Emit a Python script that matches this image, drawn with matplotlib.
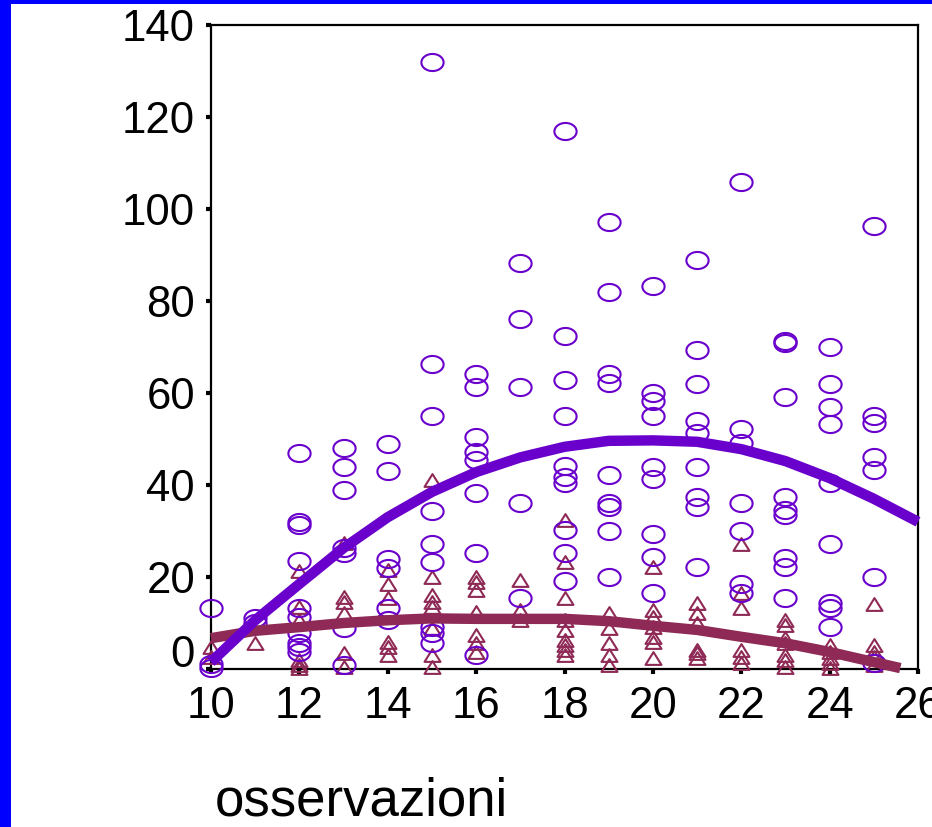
import matplotlib
matplotlib.use("Agg")
import matplotlib.pyplot as plt
import numpy as np
from matplotlib.path import Path
from matplotlib.patches import Rectangle
from matplotlib.transforms import ScaledTranslation

plt.rcParams['font.family'] = ['Liberation Sans', 'DejaVu Sans']

# ---- data ----
circle_x = list(range(10, 26))
circle_vals = [
    [13.3, 1.0, 0.3],
    [11, 10],
    [47, 32, 31.3, 23.5, 13.3, 11.3, 7.8, 5.6, 4.8, 3.7],
    [48, 44, 39, 26.3, 25.2, 8.9, 0.9],
    [49, 43, 24, 22, 13.3, 10.6],
    [132, 66.3, 55, 34.3, 27.2, 23.3, 9.1, 7.8, 5.6],
    [64.1, 61.3, 50.4, 47.2, 45.4, 38.3, 25.2, 3],
    [88.3, 76, 61.3, 36, 15.4],
    [117, 72.4, 62.8, 55, 44.1, 41.7, 40.4, 30.2, 25.2, 19.1],
    [97.2, 82, 64.1, 62.2, 42.2, 36, 35.2, 30, 20],
    [83.3, 60, 58.3, 55, 44, 41.3, 29.3, 24.3, 16.5],
    [89, 69.3, 62, 54, 51.3, 44, 37.4, 35.2, 22.2],
    [105.9, 52.2, 49.1, 36, 30, 18.5, 16.5],
    [71.2, 70.8, 59.1, 37.4, 34.6, 33.5, 24.1, 22.2, 15.4],
    [70, 62, 57, 53.3, 40.4, 27.2, 14.3, 13.3, 9.1],
    [96.3, 55, 53.5, 46.1, 43.3, 20, 1.3],
]
triangle_vals = [
    [4.8, 2.6],
    [5.6],
    [21.3, 13.5, 10.6, 2, 0.9, 0.2],
    [27.4, 15.7, 14.6, 12.2, 3.5, 0.5],
    [21.5, 18.5, 15.4, 5.9, 4.8, 3],
    [41, 20, 16, 14.6, 13.5, 8.9, 3, 0.5],
    [20, 18.9, 17.2, 12.4, 7.4, 5.6, 3.7],
    [19.3, 12.8, 10.6],
    [32.4, 23.3, 15.4, 10.6, 8.5, 6.3, 5.2, 4.1, 3],
    [12.2, 8.9, 5.6, 3, 0.9],
    [22.2, 12.8, 11.3, 9.1, 7, 5.9, 2.4],
    [14.3, 12.2, 10, 4.1, 3.5, 2.4],
    [27.2, 16.5, 13.3, 4.1, 2.6, 1.3],
    [10.6, 9.6, 6.7, 5.6, 3, 2, 0.5],
    [5.2, 3.7, 2.4, 1.3, 0.2],
    [14.1, 5.2, 3.7, 2.6, 0.9],
]
purple_fit_x = [10, 11, 12, 13, 14, 15, 16, 17, 18, 19, 20, 21, 22, 23, 24, 25, 26]
purple_fit_y = [1.5, 10.6, 18.5, 26.3, 33, 38.5, 42.8, 46.0, 48.3, 49.6, 49.7, 49.4,
                47.8, 45.2, 41.5, 37.0, 32]
maroon_fit_x = [10, 11, 12, 13, 14, 15, 16, 17, 18, 19, 20, 21, 22, 23, 24, 25, 25.6]
maroon_fit_y = [6.7, 8.3, 9.1, 10, 10.6, 11.0, 10.9, 10.9, 10.9, 10.4, 9.4, 8.5, 7,
                5.6, 3.7, 1.5, 0.2]
x_ticks = [10, 12, 14, 16, 18, 20, 22, 24, 26]
y_ticks = [0, 20, 40, 60, 80, 100, 120, 140]
x_label = "osservazioni"

purple = '#6a00cc'
maroon = '#8e2a55'

# markers (stretched shapes like the reference)
t = np.linspace(0, 2 * np.pi, 60)
ellipse = Path(np.column_stack([1.3 * np.cos(t), np.sin(t)]), closed=True)
tri = Path([(-1, -0.8), (1, -0.8), (0, 0.8), (-1, -0.8)], closed=True)

fig = plt.figure(figsize=(9.32, 8.27), dpi=100)
fig.patch.set_facecolor('white')
W, H = 932, 827
ax = fig.add_axes([211 / W, (H - 669) / H, 707 / W, 644 / H])

cx = [x for x, vals in zip(circle_x, circle_vals) for _ in vals]
cy = [v for vals in circle_vals for v in vals]
tx = [x for x, vals in zip(circle_x, triangle_vals) for _ in vals]
ty = [v for vals in triangle_vals for v in vals]

ax.plot(tx, ty, linestyle='none', marker=tri, markersize=11.5, markerfacecolor='none',
        markeredgecolor=maroon, markeredgewidth=1.5, clip_on=False, zorder=3)
ax.plot(cx, cy, linestyle='none', marker=ellipse, markersize=16, markerfacecolor='none',
        markeredgecolor=purple, markeredgewidth=1.5, clip_on=False, zorder=3)
ax.plot(maroon_fit_x, maroon_fit_y, color=maroon, linewidth=7.5, clip_on=False, zorder=4,
        solid_capstyle='butt', solid_joinstyle='round')
ax.plot(purple_fit_x, purple_fit_y, color=purple, linewidth=7.5, clip_on=False, zorder=5,
        solid_capstyle='butt', solid_joinstyle='round')

ax.set_xlim(10, 26)
ax.set_ylim(0, 140)
ax.set_xticks(x_ticks)
ax.set_yticks(y_ticks)
ax.set_xticklabels([str(v) for v in x_ticks])
ax.set_yticklabels([str(v) for v in y_ticks])
ax.tick_params(axis='both', direction='out', length=3.5, width=3, labelsize=31.5,
               colors='black')
ax.tick_params(axis='y', pad=8)
ax.tick_params(axis='x', pad=9)
for s in ax.spines.values():
    s.set_linewidth(1.6)
    s.set_color('black')

# the "0" label sits a bit above its tick in the reference
lab0 = ax.get_yticklabels()[0]
lab0.set_transform(lab0.get_transform() + ScaledTranslation(0, 13 / 72, fig.dpi_scale_trans))

fig.text(215 / W, (H - 815) / H, x_label, fontsize=38, ha='left', va='baseline')

# blue slide border on left and top
fig.patches.append(Rectangle((0, 0), 11 / W, 1, transform=fig.transFigure,
                             facecolor='#0000ff', edgecolor='none', zorder=10))
fig.patches.append(Rectangle((0, 1 - 4 / H), 1, 4 / H, transform=fig.transFigure,
                             facecolor='#0000ff', edgecolor='none', zorder=10))

fig.savefig('out.png', dpi=100)
